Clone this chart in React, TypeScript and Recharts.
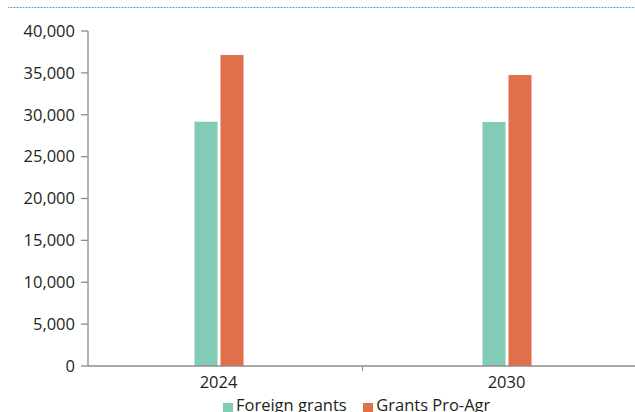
import React from "react";
import { BarChart, Bar, XAxis, YAxis, Legend } from "recharts";

// Grants by year
const years = ["2024", "2030"];
const foreignGrants = [29150, 29130];
const grantsProAgr = [37130, 34750];
const yTicks = [0, 5000, 10000, 15000, 20000, 25000, 30000, 35000, 40000];

const seriesNames = ["Foreign grants", "Grants Pro-Agr"];
const seriesColors = ["#82CCB7", "#E1704A"];

const data = years.map((year, i) => ({
  year,
  foreign: foreignGrants[i],
  proAgr: grantsProAgr[i],
}));

const FONT = "'Open Sans', sans-serif";
const TEXT = "#231F20";
const AXIS = "#8C8C8C";

const fmt = (v: number) => v.toLocaleString("en-US");

// Category label plus a small tick at the boundary between categories
const YearTick = (props: any) => {
  const { x, y, payload, index, visibleTicksCount } = props;
  const half = payload.offset || 0;
  return (
    <g>
      <text
        x={x}
        y={y + 14}
        textAnchor="middle"
        fill={TEXT}
        fontSize={16.5}
        fontFamily={FONT}
      >
        {payload.value}
      </text>
      {index < (visibleTicksCount ?? years.length) - 1 && (
        <line x1={x + half} x2={x + half} y1={y - 8} y2={y - 3} stroke={AXIS} strokeWidth={1} />
      )}
    </g>
  );
};

const renderLegend = () => (
  <div
    style={{
      display: "flex",
      alignItems: "flex-start",
      fontFamily: FONT,
      fontSize: 16.5,
      color: TEXT,
      whiteSpace: "nowrap",
    }}
  >
    {seriesNames.map((name, i) => (
      <div key={name} style={{ display: "flex", alignItems: "flex-start", marginRight: 16 }}>
        <span
          style={{
            display: "inline-block",
            width: 10,
            height: 10,
            marginTop: 9.3,
            marginRight: 3.5,
            background: seriesColors[i],
          }}
        />
        <span>{name}</span>
      </div>
    ))}
  </div>
);

export default function App() {
  return (
    <div
      style={{
        position: "absolute",
        left: 0,
        top: 0,
        width: 635,
        height: 412,
        overflow: "hidden",
        background: "#fff",
      }}
    >
      {/* dotted rule across the top of the panel */}
      <svg
        width={640}
        height={2}
        style={{ position: "absolute", left: 8, top: 7 }}
      >
        <line x1={0} x2={640} y1={0.5} y2={0.5} stroke="#B3DDF2" strokeWidth={1} />
        <line x1={0} x2={640} y1={0.5} y2={0.5} stroke="#2F9BD4" strokeWidth={1} strokeDasharray="1 2" />
      </svg>
      <BarChart
        width={651}
        height={412}
        data={data}
        margin={{ top: 31, right: 0.5, bottom: 16, left: 8 }}
        barGap={3}
      >
        <XAxis
          dataKey="year"
          height={30}
          padding={{ left: -13.5, right: 0 }}
          axisLine={{ stroke: AXIS, strokeWidth: 1.3 }}
          tickLine={false}
          tick={<YearTick />}
          interval={0}
        />
        <YAxis
          width={80}
          domain={[0, 40000]}
          ticks={yTicks}
          interval={0}
          tickFormatter={fmt}
          axisLine={{ stroke: AXIS, strokeWidth: 1.3 }}
          tickLine={{ stroke: AXIS, strokeWidth: 1.3 }}
          tickSize={7}
          tickMargin={6}
          tick={{ fill: TEXT, fontSize: 16.5, fontFamily: FONT }}
        />
        <Legend
          layout="horizontal"
          align="center"
          verticalAlign="middle"
          content={renderLegend}
          wrapperStyle={{ left: 222.5, top: 393.4, width: 400, height: 22 }}
        />
        <Bar dataKey="foreign" name={seriesNames[0]} fill={seriesColors[0]} barSize={23} isAnimationActive={false} />
        <Bar dataKey="proAgr" name={seriesNames[1]} fill={seriesColors[1]} barSize={23} isAnimationActive={false} />
      </BarChart>
    </div>
  );
}
